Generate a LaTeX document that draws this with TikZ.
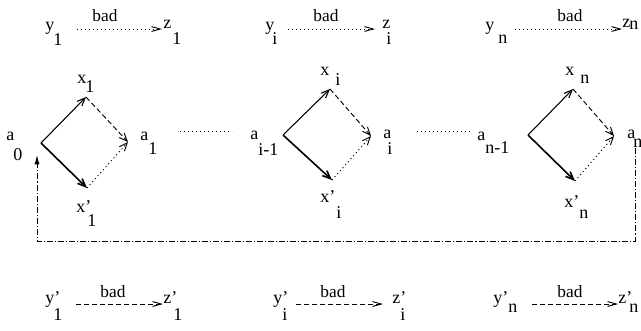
\documentclass[tikz,border=0pt]{standalone}
\usepackage{fontspec}
\setmainfont{Liberation Serif}
\usetikzlibrary{arrows.meta}
\newlength\pxu \setlength\pxu{0.75pt}
\newcommand\slab[4]{\rlap{#1}\hspace*{#2\pxu}\raisebox{-#3\pxu}{#4}}
\begin{document}
\begin{tikzpicture}[x=0.75pt,y=-0.75pt,
  lab/.style={anchor=base west,inner sep=0pt,font=\fontsize{13.5}{16}\selectfont},
  badlab/.style={anchor=base,inner sep=0pt,font=\fontsize{13}{16}\selectfont},
  barb/.style={-{Straight Barb[length=6pt,width=5pt]}},
  hd/.style={-{Straight Barb[length=6.5pt,width=3.6pt]}},
  dotline/.style={line width=0.7pt,dash pattern=on 0.8pt off 2.2pt},
  dashline/.style={line width=0.7pt,dash pattern=on 3.8pt off 2.2pt},
  dashdot/.style={line width=0.7pt,dash pattern=on 4.5pt off 1.5pt on 0.8pt off 1.5pt},
  solidedge/.style={line width=0.8pt,barb},
  thickedge/.style={line width=1.2pt,barb},
  line cap=butt]
\useasboundingbox (0,0) rectangle (641,330);

% ---------- top row ----------
\node[lab] (y1) at (45,30) {\slab{y}{8}{15}{1}};
\node[lab] (z1) at (163,28) {\slab{z}{9}{16}{1}};
\node[badlab] (b1) at (105,21) {bad};
\coordinate (t1s) at (77,29); \coordinate (t1e) at (162,29);
\draw[dotline,hd] (t1s) -- (t1e);

\node[lab] (yi) at (265,30) {\slab{y}{7}{14}{i}};
\node[lab] (zi) at (382,28) {\slab{z}{4}{16}{i}};
\node[badlab] (bi) at (326,21) {bad};
\coordinate (tis) at (288,29); \coordinate (tie) at (375,29);
\draw[dotline,hd] (tis) -- (tie);

\node[lab] (yn) at (485,30) {\slab{y}{13}{13}{n}};
\node[lab] (zn) at (622,27) {\slab{z}{7}{2}{n}};
\node[badlab] (bn) at (570,21) {bad};
\coordinate (tns) at (515,29); \coordinate (tne) at (622,29);
\draw[dotline,hd] (tns) -- (tne);

% ---------- bottom row ----------
\node[lab] (yp1) at (45,303) {\slab{y'}{8}{17}{1}};
\node[lab] (zp1) at (163,303) {\slab{z'}{10}{17}{1}};
\node[badlab] (bp1) at (113,297) {bad};
\coordinate (u1s) at (76,304); \coordinate (u1e) at (163,304);
\draw[dashline,hd] (u1s) -- (u1e);

\node[lab] (ypi) at (273,303) {\slab{y'}{9}{17}{i}};
\node[lab] (zpi) at (392,303) {\slab{z'}{8}{17}{i}};
\node[badlab] (bpi) at (333,297) {bad};
\coordinate (uis) at (296,304); \coordinate (uie) at (383,304);
\draw[dashline,hd] (uis) -- (uie);

\node[lab] (ypn) at (493,303) {\slab{y'}{15}{9}{n}};
\node[lab] (zpn) at (618,303) {\slab{z'}{11}{9}{n}};
\node[badlab] (bpn) at (570,297) {bad};
\coordinate (uns) at (532,304); \coordinate (une) at (618,304);
\draw[dashline,hd] (uns) -- (une);

% ---------- group 1 ----------
\coordinate (v1) at (41,143);
\coordinate (x1) at (86,97);
\coordinate (a1) at (128,142);
\coordinate (xp1) at (87,188);
\draw[solidedge] (v1) -- (x1);
\draw[thickedge] (v1) -- (xp1);
\draw[dashline,barb] (x1) -- (a1);
\draw[dotline,barb] (xp1) -- (a1);
\node[lab] (lx1) at (77,83) {\slab{x}{8}{9}{1}};
\node[lab] (lxp1) at (76,212) {\slab{x'}{11}{14}{1}};
\node[lab] (la0) at (6,140) {\slab{a}{7}{20}{0}};
\node[lab] (la1) at (140,140) {\slab{a}{8}{14}{1}};

% ---------- group i ----------
\coordinate (vi) at (283,135);
\coordinate (xi) at (330,89);
\coordinate (ai) at (371,136);
\coordinate (xpi) at (332,180);
\draw[solidedge] (vi) -- (xi);
\draw[thickedge] (vi) -- (xpi);
\draw[dashline,barb] (xi) -- (ai);
\draw[dotline,barb] (xpi) -- (ai);
\node[lab] (lxi) at (320,75) {\slab{x}{15}{10}{i}};
\node[lab] (lxpi) at (320,202) {\slab{x'}{16}{16}{i}};
\node[lab] (laim) at (250,139) {\slab{a}{8}{16}{i-1}};
\node[lab] (lai) at (383,138) {\slab{a}{4}{16}{i}};

% ---------- group n ----------
\coordinate (vn) at (528,135);
\coordinate (xn) at (573,89);
\coordinate (an) at (614,136);
\coordinate (xpn) at (575,181);
\draw[solidedge] (vn) -- (xn);
\draw[thickedge] (vn) -- (xpn);
\draw[dashline,barb] (xn) -- (an);
\draw[dotline,barb] (xpn) -- (an);
\node[lab] (lxn) at (565,75) {\slab{x}{15}{8}{n}};
\node[lab] (lxpn) at (564,207) {\slab{x'}{15}{11}{n}};
\node[lab] (lanm) at (477,140) {\slab{a}{8}{13}{n-1}};
\node[lab] (lan) at (627,138) {\slab{a}{6}{9}{n}};

% ---------- dotted links between groups ----------
\coordinate (d1s) at (180,131); \coordinate (d1e) at (232,131);
\draw[dotline] (d1s) -- (d1e);
\coordinate (d2s) at (417,131); \coordinate (d2e) at (470,131);
\draw[dotline] (d2s) -- (d2e);

% ---------- feedback loop ----------
\coordinate (ls) at (635,148);
\coordinate (lr) at (635,241);
\coordinate (ll) at (37,241);
\coordinate (le) at (37,155);
\draw[dashdot,-{Latex[length=7pt,width=3.8pt]}] (ls) -- (lr) -- (ll) -- (le);
\end{tikzpicture}
\end{document}
